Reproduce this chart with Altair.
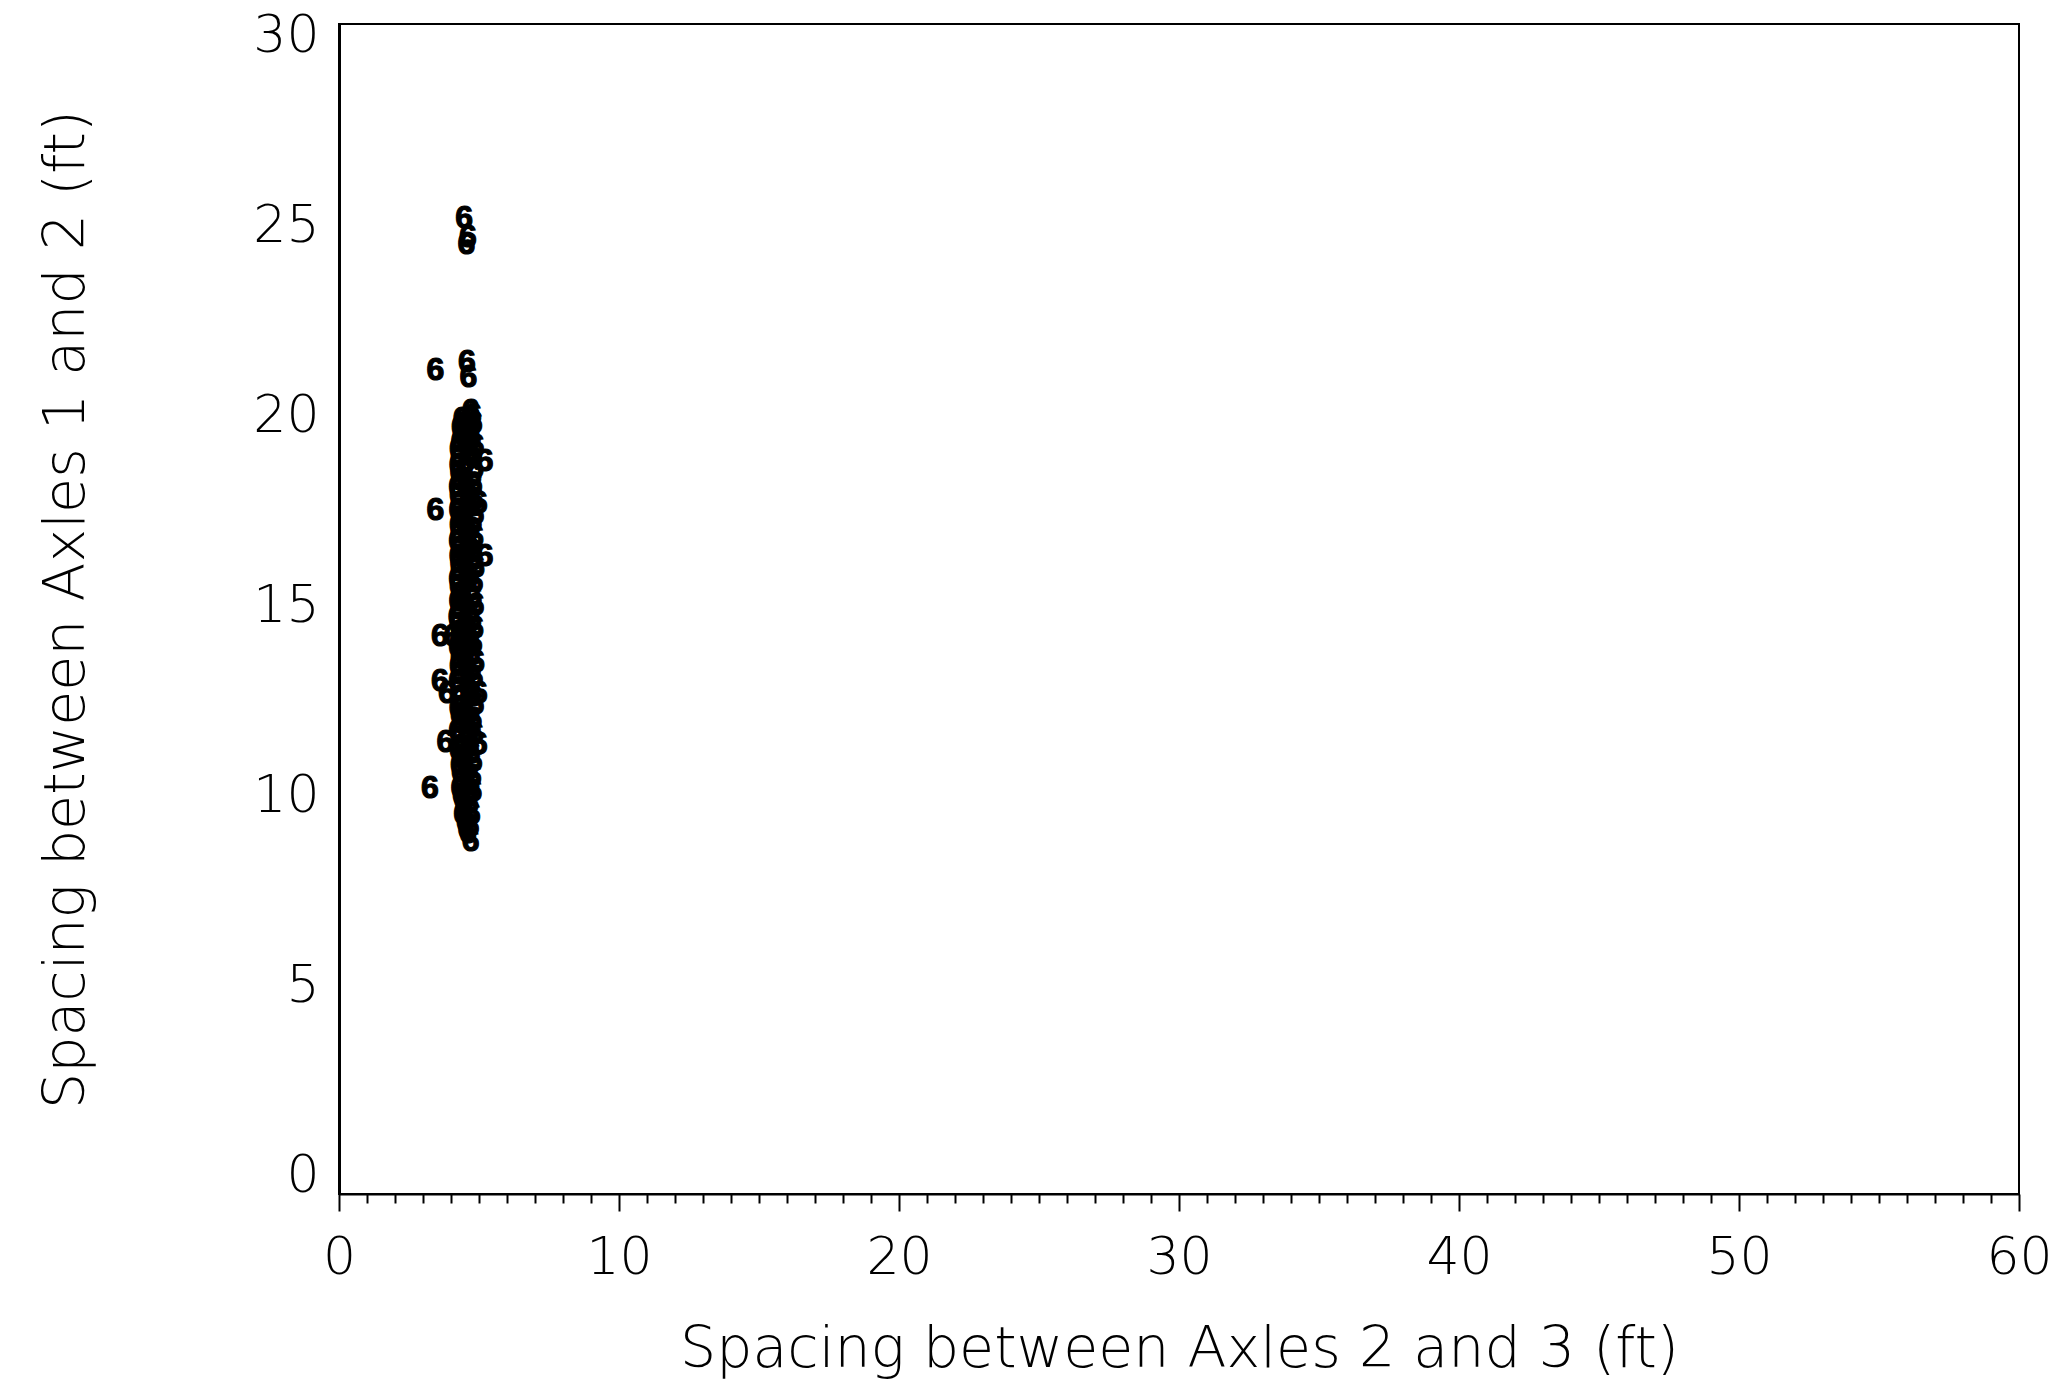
import altair as alt
import pandas as pd

# Spacing between axles 2 and 3 (ft) and axles 1 and 2 (ft)
spacing_23 = [
    4.47, 4.60, 4.55, 3.44, 4.57, 4.62, 4.70, 5.20, 3.44, 5.00, 5.20, 3.60, 4.05,
    3.60, 3.85, 5.00, 3.80, 5.00, 3.25, 4.60, 4.70,
    4.50, 4.45, 4.40, 4.35, 4.30, 4.38, 4.32, 4.28, 4.33, 4.25, 4.30, 4.22, 4.35,
    4.28, 4.24, 4.30, 4.26, 4.22, 4.30, 4.25, 4.28, 4.22, 4.26, 4.30, 4.24, 4.20,
    4.27, 4.23, 4.30, 4.25, 4.22, 4.28, 4.26, 4.24, 4.30, 4.22, 4.27, 4.25, 4.30,
    4.23, 4.28, 4.25, 4.22, 4.30, 4.26, 4.24, 4.28, 4.25, 4.30, 4.35, 4.32, 4.38,
    4.40, 4.42,
    4.70, 4.75, 4.68, 4.80, 4.72, 4.78, 4.66, 4.82, 4.74, 4.70, 4.85, 4.76, 4.80,
    4.72, 4.88, 4.78, 4.70, 4.84, 4.76, 4.90, 4.74, 4.82, 4.70, 4.86, 4.78, 4.72,
    4.88, 4.80, 4.74, 4.84, 4.70, 4.90, 4.78, 4.82, 4.74, 4.86, 4.72, 4.80, 4.88,
    4.76, 4.84, 4.70, 4.82, 4.78, 4.86, 4.74, 4.80, 4.88, 4.76, 4.72, 4.82, 4.78,
    4.74, 4.70, 4.68,
    4.55, 4.50, 4.58, 4.52, 4.56, 4.48, 4.60, 4.54, 4.50, 4.57, 4.52, 4.60, 4.55,
    4.50, 4.58, 4.53, 4.56, 4.51, 4.59, 4.54, 4.50, 4.57, 4.52, 4.55, 4.60, 4.53,
    4.50, 4.58, 4.55, 4.52,
    4.40, 4.62, 4.45, 4.65, 4.38, 4.60, 4.42, 4.64, 4.36, 4.62, 4.44, 4.66, 4.40,
    4.60, 4.46, 4.64, 4.38, 4.62, 4.42, 4.66,
]
spacing_12 = [
    25.2, 24.7, 24.5, 21.2, 21.4, 21.0, 20.1, 18.8, 17.5, 17.7, 16.3, 14.2, 14.2,
    13.0, 12.7, 12.7, 11.4, 11.35, 10.2, 9.0, 8.8,
    9.3, 9.6, 9.9, 10.0, 10.2, 10.4, 10.6, 10.8, 11.0, 11.2, 11.5, 11.7, 11.9,
    12.1, 12.3, 12.5, 12.8, 13.0, 13.2, 13.4, 13.6, 13.9, 14.1, 14.3, 14.5, 14.7,
    14.9, 15.1, 15.3, 15.5, 15.7, 15.9, 16.1, 16.3, 16.5, 16.7, 16.9, 17.1, 17.3,
    17.5, 17.7, 17.9, 18.1, 18.3, 18.5, 18.7, 18.9, 19.1, 19.3, 19.5, 19.7, 19.9,
    19.6, 19.8,
    9.2, 9.5, 9.8, 10.1, 10.3, 10.5, 10.7, 10.9, 11.1, 11.3, 11.6, 11.8, 12.0,
    12.2, 12.4, 12.6, 12.9, 13.1, 13.3, 13.5, 13.7, 14.0, 14.2, 14.4, 14.6, 14.8,
    15.0, 15.2, 15.4, 15.6, 15.8, 16.0, 16.2, 16.4, 16.6, 16.8, 17.0, 17.2, 17.4,
    17.6, 17.8, 18.0, 18.2, 18.4, 18.6, 18.9, 19.0, 19.2, 19.4, 19.6, 19.8, 20.0,
    19.9, 19.5, 19.7,
    9.1, 9.7, 10.4, 11.0, 11.6, 12.2, 12.8, 13.4, 14.0, 14.6, 15.2, 15.8, 16.4,
    17.0, 17.6, 18.2, 18.8, 19.4, 9.4, 10.7, 12.0, 13.3, 14.5, 15.7, 16.9, 18.1,
    19.3, 11.9, 15.0, 17.2,
    9.5, 10.1, 10.9, 11.5, 12.3, 12.9, 13.7, 14.3, 15.1, 15.6, 16.2, 16.7, 17.3,
    17.9, 18.5, 19.0, 19.6, 13.9, 11.2, 16.5,
]
vehicle_class = ["6"] * len(spacing_23)

df = pd.DataFrame({"s23": spacing_23, "s12": spacing_12, "cls": vehicle_class})

x_ticks = list(range(0, 61))
y_ticks = [0, 5, 10, 15, 20, 25, 30]

FONT = "DejaVu Sans"

chart = (
    alt.Chart(df)
    .mark_text(
        font="Liberation Sans", fontWeight="bold", fontSize=32, color="black",
        stroke="black", strokeWidth=1.2,
    )
    .encode(
        x=alt.X(
            "s23:Q",
            title="Spacing between Axles 2 and 3 (ft)",
            scale=alt.Scale(domain=[0, 60], nice=False, zero=False),
            axis=alt.Axis(
                values=x_ticks,
                labelExpr="datum.value % 10 == 0 ? datum.label : ''",
                tickSize={"condition": {"test": "datum.value % 10 == 0", "value": 17}, "value": 9},
                tickWidth=2,
                tickColor="black",
                domainColor="black",
                domainWidth=2,
                grid=False,
                labelFont=FONT,
                labelFontWeight=200,
                labelFontSize=52,
                labelColor="black",
                labelPadding=21,
                labelFlush=False,
                titleFont=FONT,
                titleFontWeight=200,
                titleFontSize=57,
                titleColor="black",
                titlePadding=38,
            ),
        ),
        y=alt.Y(
            "s12:Q",
            title="Spacing between Axles 1 and 2 (ft)",
            scale=alt.Scale(domain=[-0.5, 30.3], nice=False, zero=False),
            axis=alt.Axis(
                values=y_ticks,
                ticks=False,
                domainColor="black",
                domainWidth=3,
                grid=False,
                labelFont=FONT,
                labelFontWeight=200,
                labelFontSize=52,
                labelColor="black",
                labelPadding=20,
                labelFlush=False,
                titleFont=FONT,
                titleFontWeight=200,
                titleFontSize=57,
                titleColor="black",
                titlePadding=157,
            ),
        ),
        text="cls:N",
    )
    .properties(
        width=1680,
        height=1170,
        padding={"left": 339, "top": 24, "right": 49, "bottom": 194},
        autosize=alt.AutoSizeParams(type="none"),
        background="white",
    )
    .configure_view(stroke="black", strokeWidth=2)
)

chart.save("out.html", embed_options={"renderer": "svg", "actions": False})
